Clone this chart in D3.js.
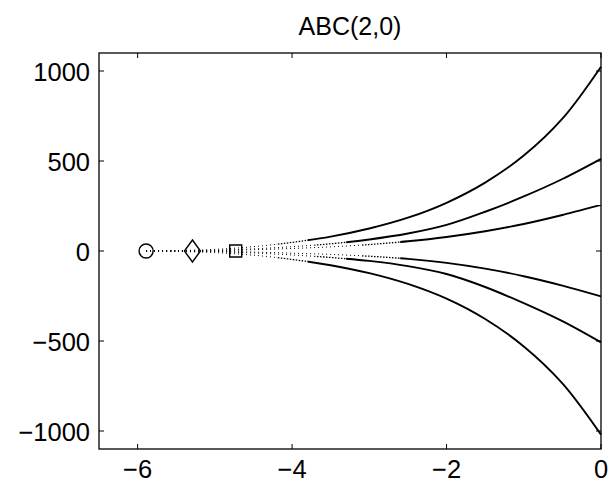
<!DOCTYPE html>
<html><head><meta charset="utf-8">
<script src="https://cdn.jsdelivr.net/npm/d3@7"></script>
<style>
body{margin:0;background:#fff;}
text{font-family:"Liberation Sans",Arial,Helvetica,sans-serif;fill:#000;}
</style></head>
<body><svg id="c" width="609" height="487"></svg>
<script>
const title = "ABC(2,0)";
const xTicks = [-6, -4, -2, 0];
const yTicks = [-1000, -500, 0, 500, 1000];
const xs = [-5.89, -5.5, -5, -4.5, -4, -3.5, -3, -2.5, -2, -1.5, -1, -0.5, 0];
const upperOuter  = [0, 2, 9, 24, 48, 80, 125, 185, 268, 380, 530, 735, 1024];
const upperMiddle = [0, 1, 4, 12, 24, 40, 64, 97, 145, 218, 303, 400, 512];
const upperInner  = [0, 0.6, 2.5, 7, 14, 23, 36, 54, 78, 110, 150, 200, 256];
const lowerInner  = [0, -0.5, -2, -6, -12, -19, -29, -44, -66, -98, -140, -192, -252];
const lowerMiddle = [0, -1, -4, -11, -22, -36, -55, -84, -128, -200, -290, -390, -508];
const lowerOuter  = [0, -2, -9, -23, -47, -79, -123, -183, -265, -378, -530, -735, -1020];
const denseFrom = [-4.2, -3.7, -3.1, -3.1, -3.7, -4.2];
const solidFrom = [-3.8, -3.3, -2.6, -2.6, -3.3, -3.8];
const markerX = [-5.89, -5.29, -4.73];
const markerType = ["circle", "diamond", "square"];

const svg = d3.select("#c");
const L = 99, R = 601, T = 53, B = 449;
const x = d3.scaleLinear().domain([-6.5, 0]).range([L, R]);
const y = d3.scaleLinear().domain([-1100, 1100]).range([B, T]);

const series = [upperOuter, upperMiddle, upperInner, lowerInner, lowerMiddle, lowerOuter];
const line = d3.line().x((d,i)=>x(xs[i])).y(d=>y(d)).curve(d3.curveCatmullRom.alpha(0.5));

const defs = svg.append("defs");
function clip(id, x0, x1){
  defs.append("clipPath").attr("id",id).append("rect")
    .attr("x", x0).attr("y", 0).attr("width", Math.max(0, x1 - x0)).attr("height", 487);
}
series.forEach((s, k) => {
  const xd = x(denseFrom[k]), xsol = x(solidFrom[k]);
  clip("a"+k, 0, xd); clip("b"+k, xd, xsol); clip("c"+k, xsol, R + 2);
  const d = line(s);
  svg.append("path").attr("d", d).attr("fill","none").attr("stroke","#000")
    .attr("stroke-width",1).attr("stroke-dasharray","1,3").attr("clip-path","url(#a"+k+")");
  svg.append("path").attr("d", d).attr("fill","none").attr("stroke","#000")
    .attr("stroke-width",1.3).attr("stroke-dasharray","1.5,1.5").attr("clip-path","url(#b"+k+")");
  svg.append("path").attr("d", d).attr("fill","none").attr("stroke","#000")
    .attr("stroke-width",1.9).attr("clip-path","url(#c"+k+")");
});

// markers
const symType = {circle: d3.symbolCircle, diamond: d3.symbolDiamond, square: d3.symbolSquare};
const symSize = {circle: 154, diamond: 140, square: 144};
markerX.forEach((mx, i) => {
  const t = markerType[i];
  svg.append("path")
    .attr("d", d3.symbol().type(symType[t]).size(symSize[t])())
    .attr("transform", `translate(${x(mx)},${y(0)})` + (t==="diamond" ? " scale(1.26,1.0)" : ""))
    .attr("fill","none").attr("stroke","#000").attr("stroke-width",1.4)
    .attr("vector-effect","non-scaling-stroke");
});

// axes box
svg.append("rect").attr("x",L).attr("y",T).attr("width",R-L).attr("height",B-T)
  .attr("fill","none").attr("stroke","#000").attr("stroke-width",1.3);

const tl = 5;
xTicks.forEach(v => {
  svg.append("line").attr("x1",x(v)).attr("x2",x(v)).attr("y1",B).attr("y2",B-tl).attr("stroke","#000");
  svg.append("line").attr("x1",x(v)).attr("x2",x(v)).attr("y1",T).attr("y2",T+tl).attr("stroke","#000");
  svg.append("text").attr("x",x(v)).attr("y",478).attr("text-anchor","middle")
    .attr("font-size",25.5).text(d3.format("")(v));
});
yTicks.forEach(v => {
  svg.append("line").attr("x1",L).attr("x2",L+tl).attr("y1",y(v)).attr("y2",y(v)).attr("stroke","#000");
  svg.append("line").attr("x1",R).attr("x2",R-tl).attr("y1",y(v)).attr("y2",y(v)).attr("stroke","#000");
  svg.append("text").attr("x",90).attr("y",y(v)+10).attr("text-anchor","end")
    .attr("font-size",25.5).text(d3.format("")(v));
});
svg.append("text").attr("x",(L+R)/2).attr("y",35).attr("text-anchor","middle")
  .attr("font-size",25).text(title);
</script></body></html>
